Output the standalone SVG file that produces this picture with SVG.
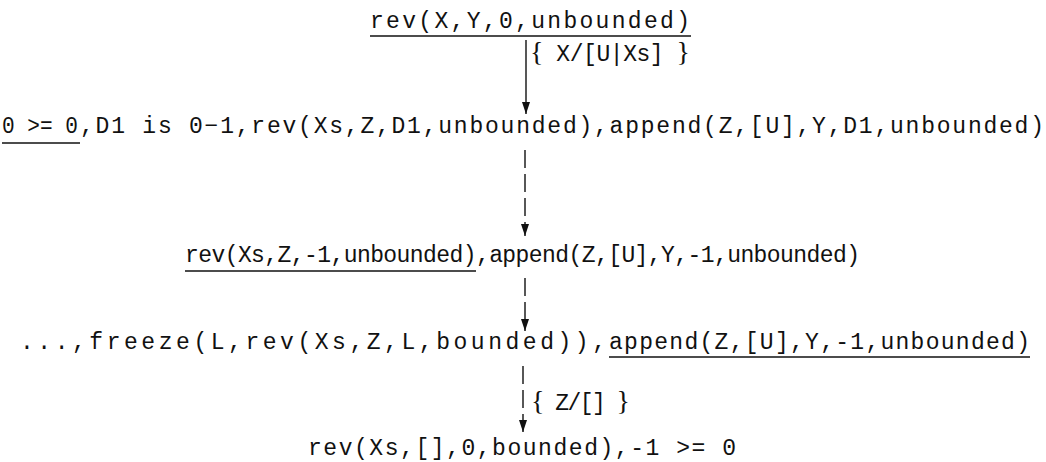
<svg xmlns="http://www.w3.org/2000/svg" width="1046" height="462" viewBox="0 0 1046 462">
<style>
.t{font-family:"Liberation Mono","Courier New",monospace;font-size:23px;fill:#111}
.b{font-family:"Liberation Serif","Times New Roman",serif;font-size:28px}
.u{stroke:#111;stroke-width:1.3;fill:none}
.c{stroke:#111;stroke-width:1.4;fill:none}
.d{stroke-dasharray:18 6}
</style>
<defs>
<marker id="ad" viewBox="0 0 12 8" refX="12" refY="4" markerWidth="12" markerHeight="8" markerUnits="userSpaceOnUse" orient="auto">
<path d="M0,0 L12,4 L0,8 Z" fill="#111"/>
</marker>
</defs>
<g id="connectors">
<line class="c" x1="526" y1="40" x2="526" y2="114" marker-end="url(#ad)"/>
<line class="c d" x1="525" y1="150" x2="525" y2="236" marker-end="url(#ad)"/>
<line class="c d" x1="525" y1="278" x2="525" y2="331" marker-end="url(#ad)"/>
<line class="c d" x1="523" y1="366" x2="523" y2="432" marker-end="url(#ad)"/>
<text class="t" x="530" y="61" textLength="160" lengthAdjust="spacing"><tspan class="b">{</tspan> X/[U|Xs] <tspan class="b">}</tspan></text>
<text class="t" x="531" y="410" textLength="99" lengthAdjust="spacing"><tspan class="b">{</tspan> Z/[] <tspan class="b">}</tspan></text>
</g>
<g id="n1">
<text class="t" x="370" y="28" textLength="320" lengthAdjust="spacing">rev(X,Y,0,unbounded)</text>
<line class="u" x1="370" y1="36" x2="691" y2="36"/>
</g>
<g id="n2">
<text class="t" x="2" y="133" textLength="76" lengthAdjust="spacingAndGlyphs">0 &gt;= 0</text>
<text class="t" x="80" y="133" textLength="964" lengthAdjust="spacing">,D1 is 0−1,rev(Xs,Z,D1,unbounded),append(Z,[U],Y,D1,unbounded)</text>
<line class="u" x1="2" y1="143" x2="80" y2="143"/>
</g>
<g id="n3">
<text class="t" x="185" y="262" textLength="675" lengthAdjust="spacing">rev(Xs,Z,-1,unbounded),append(Z,[U],Y,-1,unbounded)</text>
<line class="u" x1="185" y1="271" x2="476" y2="271"/>
</g>
<g id="n4">
<text class="t" x="20" y="349" textLength="586" lengthAdjust="spacing">...,freeze(L,rev(Xs,Z,L,bounded)),</text>
<text class="t" x="609" y="349" textLength="421" lengthAdjust="spacing">append(Z,[U],Y,-1,unbounded)</text>
<line class="u" x1="609" y1="357" x2="1030" y2="357"/>
</g>
<g id="n5">
<text class="t" x="308" y="455" textLength="428" lengthAdjust="spacing">rev(Xs,[],0,bounded),-1 &gt;= 0</text>
</g>
</svg>
